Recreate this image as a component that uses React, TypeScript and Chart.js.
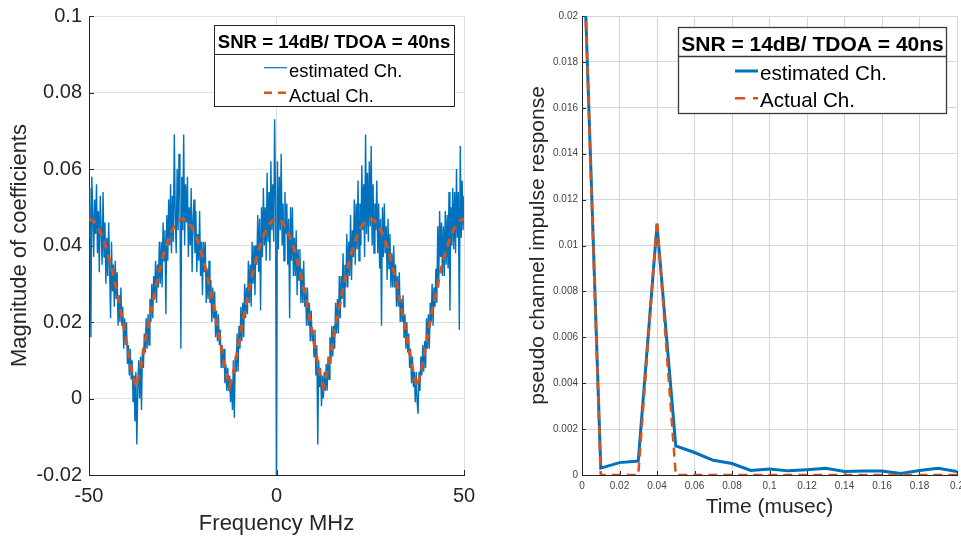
import React, { useEffect, useRef } from "react";
import { Chart, registerables } from "chart.js";

Chart.register(...registerables);

const FONT = '"Liberation Sans", Arial, Helvetica, sans-serif';
const BLUE = "#0072BD";
const ORANGE = "#D95319";
const AXIS = "#262626";

// ---------- Left panel: frequency response ----------
const FREQ_START_MHZ = -50;
const FREQ_STEP_MHZ = 0.25;
const ACTUAL_FREQ_STEP_MHZ = 1.25;

const estimatedMag = [
  // -50 .. -25.25 MHz
  0.042, 0.055, 0.016, 0.058, 0.049, 0.037, 0.052, 0.043, 0.056, 0.038,
  0.049, 0.033, 0.053, 0.044, 0.035, 0.054, 0.037, 0.046, 0.030, 0.042,
  0.032, 0.046, 0.034, 0.021, 0.041, 0.028, 0.035, 0.024, 0.036, 0.026,
  0.033, 0.019, 0.027, 0.020, 0.029, 0.019, 0.024, 0.013, 0.021, 0.014,
  0.020, 0.009, 0.014, 0.006, 0.013, 0.005, 0.010, -0.001, 0.006, -0.006,
  0.007, -0.012, 0.002, 0.010, 0.000, 0.011, -0.003, 0.013, 0.008, 0.017,
  0.012, 0.021, 0.013, 0.022, 0.014, 0.026, 0.020, 0.030, 0.021, 0.032,
  0.026, 0.036, 0.025, 0.035, 0.029, 0.041, 0.030, 0.041, 0.029, 0.046,
  0.036, 0.044, 0.022, 0.048, 0.036, 0.052, 0.040, 0.056, 0.038, 0.053,
  0.041, 0.069, 0.048, 0.038, 0.060, 0.044, 0.064, 0.052, 0.013, 0.058,
  // -25 .. -0.25 MHz
  0.044, 0.069, 0.040, 0.056, 0.046, 0.058, 0.037, 0.050, 0.040, 0.055,
  0.033, 0.047, 0.052, 0.038, 0.049, 0.033, 0.043, 0.036, 0.049, 0.032,
  0.041, 0.027, 0.041, 0.033, 0.041, 0.025, 0.034, 0.026, 0.036, 0.025,
  0.031, 0.020, 0.029, 0.021, 0.028, 0.016, 0.023, 0.015, 0.022, 0.014,
  0.018, 0.008, 0.014, 0.008, 0.013, 0.004, 0.009, 0.002, 0.008, 0.002,
  0.006, -0.001, 0.005, -0.003, 0.010, -0.005, 0.011, 0.007, 0.017, 0.007,
  0.019, 0.013, 0.024, 0.015, 0.025, 0.016, 0.030, 0.021, 0.029, 0.022,
  0.036, 0.025, 0.035, 0.024, 0.041, 0.030, 0.040, 0.027, 0.040, 0.035,
  0.048, 0.033, 0.047, 0.023, 0.050, 0.037, 0.055, 0.040, 0.050, 0.036,
  0.059, 0.041, 0.054, 0.036, 0.062, 0.044, 0.056, 0.041, 0.073, 0.051,
  // 0 .. 24.75 MHz
  -0.030, 0.062, 0.039, 0.058, 0.044, 0.064, 0.040, 0.051, 0.036, 0.054,
  0.043, 0.051, 0.035, 0.047, 0.021, 0.050, 0.036, 0.050, 0.032, 0.042,
  0.032, 0.044, 0.027, 0.039, 0.031, 0.039, 0.025, 0.034, 0.025, 0.036,
  0.024, 0.029, 0.019, 0.029, 0.019, 0.025, 0.015, 0.023, 0.015, 0.018,
  0.011, 0.018, 0.006, 0.014, -0.012, 0.010, 0.003, 0.008, -0.002, 0.006,
  0.000, 0.007, 0.002, 0.009, 0.002, 0.011, 0.005, 0.016, 0.009, 0.019,
  0.011, 0.019, 0.013, 0.025, 0.017, 0.026, 0.017, 0.032, 0.021, 0.032,
  0.026, 0.038, 0.024, 0.035, 0.029, 0.043, 0.029, 0.041, 0.032, 0.048,
  0.031, 0.044, 0.037, 0.052, 0.035, 0.051, 0.039, 0.057, 0.036, 0.051,
  0.040, 0.061, 0.044, 0.056, 0.037, 0.069, 0.043, 0.059, 0.041, 0.062,
  // 25 .. 50 MHz
  0.045, 0.066, 0.040, 0.056, 0.038, 0.051, 0.044, 0.057, 0.038, 0.051,
  0.034, 0.047, 0.019, 0.050, 0.037, 0.051, 0.038, 0.045, 0.031, 0.047,
  0.034, 0.043, 0.029, 0.038, 0.029, 0.040, 0.029, 0.035, 0.024, 0.032,
  0.024, 0.033, 0.020, 0.026, 0.020, 0.027, 0.016, 0.022, 0.013, 0.020,
  0.012, 0.017, 0.008, 0.013, 0.004, 0.011, 0.003, 0.007, -0.001, 0.007,
  -0.001, -0.004, 0.007, 0.002, 0.011, 0.006, 0.014, 0.007, 0.015, 0.008,
  0.021, 0.013, 0.022, 0.013, 0.025, 0.020, 0.030, 0.019, 0.029, 0.024,
  0.034, 0.025, 0.045, 0.029, 0.049, 0.037, 0.046, 0.032, 0.045, 0.032,
  0.049, 0.035, 0.048, 0.034, 0.054, 0.023, 0.050, 0.040, 0.055, 0.039,
  0.054, 0.038, 0.060, 0.042, 0.054, 0.018, 0.066, 0.042, 0.057, 0.044,
  0.053,
];

const actualMag = [
  0.047, 0.0464, 0.0447, 0.0419, 0.0381, 0.0333, 0.0277, 0.0215, 0.0148, 0.0079,
  0.003, 0.0079, 0.0148, 0.0215, 0.0277, 0.0333, 0.0381, 0.0419, 0.0447, 0.0464,
  0.047, 0.0464, 0.0447, 0.0419, 0.0381, 0.0333, 0.0277, 0.0215, 0.0148, 0.0079,
  0.003, 0.0079, 0.0148, 0.0215, 0.0277, 0.0333, 0.0381, 0.0419, 0.0447, 0.0464,
  0.047, 0.0464, 0.0447, 0.0419, 0.0381, 0.0333, 0.0277, 0.0215, 0.0148, 0.0079,
  0.003, 0.0079, 0.0148, 0.0215, 0.0277, 0.0333, 0.0381, 0.0419, 0.0447, 0.0464,
  0.047, 0.0464, 0.0447, 0.0419, 0.0381, 0.0333, 0.0277, 0.0215, 0.0148, 0.0079,
  0.003, 0.0079, 0.0148, 0.0215, 0.0277, 0.0333, 0.0381, 0.0419, 0.0447, 0.0464,
  0.047,
];

// ---------- Right panel: impulse response ----------
const timeMusec = [
  0, 0.01, 0.02, 0.03, 0.04, 0.05, 0.06, 0.07, 0.08, 0.09, 0.1,
  0.11, 0.12, 0.13, 0.14, 0.15, 0.16, 0.17, 0.18, 0.19, 0.2,
];
const estimatedCir = [
  0.025, 0.0003, 0.00054, 0.00061, 0.0109, 0.00127, 0.00098, 0.00064, 0.0005, 0.0002, 0.00026,
  0.00018, 0.00023, 0.00029, 0.00015, 0.00017, 0.00017, 0.00007, 0.0002, 0.00029, 0.00015,
];
const actualCir = [
  0.025, 0, 0, 0, 0.0111, 0, 0, 0, 0, 0, 0,
  0, 0, 0, 0, 0, 0, 0, 0, 0, 0,
];

const legendTitle = "SNR = 14dB/ TDOA = 40ns";
const seriesNames = ["estimated Ch.", "Actual Ch."];

const fmt = (v: any) => String(Number(Number(v).toFixed(4)));

type LegendCfg = {
  x0: number; x1: number; y0: number; y1: number; sep: number;
  border: string; borderWidth: number;
  titleX: number; titleBase: number; titleSize: number;
  entrySize: number; sampleX0: number; sampleX1: number; textX: number;
  lineY: number[]; base: number[]; blueWidth: number; orangeWidth: number; dash: number[];
};

function makeLegend(cfg: LegendCfg) {
  return {
    id: "boxLegend",
    afterDraw(chart: any) {
      const ctx = chart.ctx as CanvasRenderingContext2D;
      ctx.save();
      ctx.fillStyle = "#ffffff";
      ctx.fillRect(cfg.x0, cfg.y0, cfg.x1 - cfg.x0, cfg.y1 - cfg.y0);
      ctx.strokeStyle = cfg.border;
      ctx.lineWidth = cfg.borderWidth;
      ctx.strokeRect(cfg.x0, cfg.y0, cfg.x1 - cfg.x0, cfg.y1 - cfg.y0);
      ctx.beginPath();
      ctx.moveTo(cfg.x0, cfg.sep);
      ctx.lineTo(cfg.x1, cfg.sep);
      ctx.stroke();
      ctx.fillStyle = "#000000";
      ctx.textBaseline = "alphabetic";
      ctx.textAlign = "center";
      ctx.font = `bold ${cfg.titleSize}px ${FONT}`;
      ctx.fillText(legendTitle, cfg.titleX, cfg.titleBase);
      ctx.textAlign = "left";
      ctx.font = `${cfg.entrySize}px ${FONT}`;
      const colors = [BLUE, ORANGE];
      const widths = [cfg.blueWidth, cfg.orangeWidth];
      for (let i = 0; i < 2; i++) {
        ctx.beginPath();
        ctx.setLineDash(i === 1 ? cfg.dash : []);
        ctx.strokeStyle = colors[i];
        ctx.lineWidth = widths[i];
        ctx.moveTo(cfg.sampleX0, cfg.lineY[i]);
        ctx.lineTo(cfg.sampleX1, cfg.lineY[i]);
        ctx.stroke();
        ctx.setLineDash([]);
        ctx.fillStyle = "#000000";
        ctx.fillText(seriesNames[i], cfg.textX, cfg.base[i]);
      }
      ctx.restore();
    },
  };
}

function makeInnerTicks(len: number) {
  return {
    id: "innerTicks",
    beforeDatasetsDraw(chart: any) {
      const ctx = chart.ctx as CanvasRenderingContext2D;
      const a = chart.chartArea;
      const xs = chart.scales.x;
      const ys = chart.scales.y;
      ctx.save();
      ctx.strokeStyle = AXIS;
      ctx.lineWidth = 1;
      ctx.beginPath();
      for (const t of ys.ticks) {
        const p = Math.round(ys.getPixelForValue(t.value)) + 0.5;
        ctx.moveTo(a.left, p);
        ctx.lineTo(a.left + len, p);
      }
      for (const t of xs.ticks) {
        const p = Math.round(xs.getPixelForValue(t.value)) + 0.5;
        ctx.moveTo(p, a.bottom);
        ctx.lineTo(p, a.bottom - len);
      }
      ctx.stroke();
      ctx.restore();
    },
  };
}

export default function App() {
  const leftRef = useRef<HTMLCanvasElement>(null);
  const rightRef = useRef<HTMLCanvasElement>(null);

  useEffect(() => {
    const left = new Chart(leftRef.current as HTMLCanvasElement, {
      type: "line",
      data: {
        datasets: [
          {
            label: seriesNames[0],
            data: estimatedMag.map((y, i) => ({ x: FREQ_START_MHZ + i * FREQ_STEP_MHZ, y })),
            borderColor: BLUE,
            borderWidth: 1.4,
            pointRadius: 0,
            tension: 0,
            fill: false,
            order: 1,
          },
          {
            label: seriesNames[1],
            data: actualMag.map((y, i) => ({ x: FREQ_START_MHZ + i * ACTUAL_FREQ_STEP_MHZ, y })),
            borderColor: ORANGE,
            borderWidth: 3,
            borderDash: [8, 6],
            pointRadius: 0,
            tension: 0,
            fill: false,
            order: 0,
          },
        ],
      },
      options: {
        responsive: false,
        animation: false,
        events: [],
        layout: { padding: { top: 16, right: 16, left: 0, bottom: 0 } },
        plugins: { legend: { display: false }, tooltip: { enabled: false } },
        scales: {
          x: {
            type: "linear",
            min: -50,
            max: 50,
            afterFit: (s: any) => { s.height = 64; s.paddingLeft = 0; s.paddingRight = 0; },
            ticks: { stepSize: 50, autoSkip: false, maxRotation: 0, padding: 9, color: AXIS, font: { family: FONT, size: 20 }, callback: fmt },
            grid: { color: "#e0e0e0", drawTicks: false, lineWidth: 1 },
            border: { color: AXIS, width: 1 },
            title: { display: true, text: "Frequency MHz", color: AXIS, font: { family: FONT, size: 22 }, padding: { top: 0, bottom: 2 } },
          },
          y: {
            type: "linear",
            min: -0.02,
            max: 0.1,
            afterFit: (s: any) => { s.width = 89; s.paddingTop = 0; s.paddingBottom = 0; },
            ticks: { stepSize: 0.02, autoSkip: false, padding: 7, color: AXIS, font: { family: FONT, size: 20 }, callback: fmt },
            grid: { color: "#e0e0e0", drawTicks: false, lineWidth: 1 },
            border: { color: AXIS, width: 1 },
            title: { display: true, text: "Magnitude of coefficients", color: AXIS, font: { family: FONT, size: 22 }, padding: { top: 7, bottom: 0 } },
          },
        },
      },
      plugins: [
        makeInnerTicks(5),
        makeLegend({
          x0: 214.5, x1: 454.5, y0: 25.5, y1: 106.5, sep: 54.5,
          border: AXIS, borderWidth: 1,
          titleX: 334, titleBase: 48.3, titleSize: 18.6,
          entrySize: 18.4, sampleX0: 264, sampleX1: 287, textX: 289,
          lineY: [67.7, 92.7], base: [76.7, 101.7],
          blueWidth: 1.2, orangeWidth: 2.5, dash: [8, 6],
        }),
      ],
    } as any);

    const right = new Chart(rightRef.current as HTMLCanvasElement, {
      type: "line",
      data: {
        datasets: [
          {
            label: seriesNames[0],
            data: estimatedCir.map((y, i) => ({ x: timeMusec[i], y })),
            borderColor: BLUE,
            borderWidth: 3,
            pointRadius: 0,
            tension: 0,
            fill: false,
            order: 1,
          },
          {
            label: seriesNames[1],
            data: actualCir.map((y, i) => ({ x: timeMusec[i], y })),
            borderColor: ORANGE,
            borderWidth: 2.5,
            borderDash: [9, 6],
            pointRadius: 0,
            tension: 0,
            fill: false,
            order: 0,
          },
        ],
      },
      options: {
        responsive: false,
        animation: false,
        events: [],
        layout: { padding: { top: 16, right: 4, left: 0, bottom: 0 } },
        plugins: { legend: { display: false }, tooltip: { enabled: false } },
        scales: {
          x: {
            type: "linear",
            min: 0,
            max: 0.2,
            afterFit: (s: any) => { s.height = 64; s.paddingLeft = 0; s.paddingRight = 0; },
            ticks: { stepSize: 0.02, autoSkip: false, maxRotation: 0, padding: 5, color: "#444444", font: { family: FONT, size: 10 }, callback: fmt },
            grid: { color: "#d6d6d6", drawTicks: false, lineWidth: 1 },
            border: { color: AXIS, width: 1 },
            title: { display: true, text: "Time (musec)", color: AXIS, font: { family: FONT, size: 21 }, padding: { top: 0, bottom: 19 } },
          },
          y: {
            type: "linear",
            min: 0,
            max: 0.02,
            afterFit: (s: any) => { s.width = 102; s.paddingTop = 0; s.paddingBottom = 0; },
            ticks: { stepSize: 0.002, autoSkip: false, padding: 4, color: "#444444", font: { family: FONT, size: 10 }, callback: fmt },
            grid: { color: "#d6d6d6", drawTicks: false, lineWidth: 1 },
            border: { color: AXIS, width: 1 },
            title: { display: true, text: "pseudo channel impulse response", color: AXIS, font: { family: FONT, size: 21 }, padding: { top: 46, bottom: 0 } },
          },
        },
      },
      plugins: [
        makeInnerTicks(4),
        makeLegend({
          x0: 198.5, x1: 466.5, y0: 27.5, y1: 113.5, sep: 56.5,
          border: "#3a3a3a", borderWidth: 1.3,
          titleX: 332.5, titleBase: 50.7, titleSize: 21,
          entrySize: 20.6, sampleX0: 255, sampleX1: 278, textX: 280,
          lineY: [71, 98.3], base: [80, 107.3],
          blueWidth: 3, orangeWidth: 2.5, dash: [10, 8],
        }),
      ],
    } as any);

    return () => {
      left.destroy();
      right.destroy();
    };
  }, []);

  return (
    <div style={{ position: "absolute", left: 0, top: 0, width: 961, height: 539, overflow: "hidden", background: "#ffffff" }}>
      <canvas ref={leftRef} width={480} height={539} style={{ position: "absolute", left: 0, top: 0 }} />
      <canvas ref={rightRef} width={481} height={539} style={{ position: "absolute", left: 480, top: 0 }} />
    </div>
  );
}
